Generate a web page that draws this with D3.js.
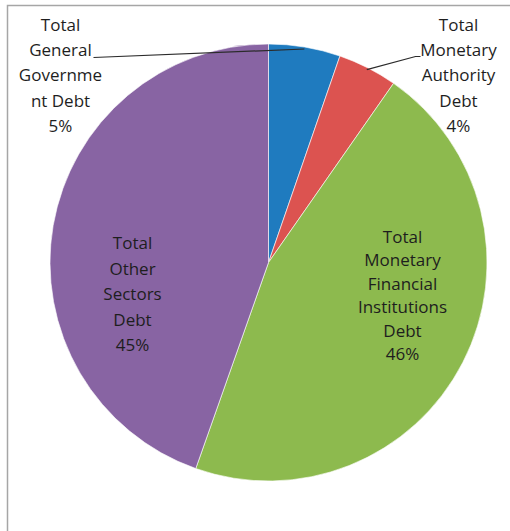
<!DOCTYPE html>
<html>
<head>
<meta charset="utf-8">
<script src="https://cdn.jsdelivr.net/npm/d3@7"></script>
<style>
  html, body { margin: 0; padding: 0; background: #fff; }
  svg { display: block; }
  .label { font-family: "Open Sans", sans-serif; font-size: 17px; fill: #1e1e1e; }
</style>
</head>
<body>
<div id="chart"></div>
<script>
// slices, clockwise from 12 o'clock
var categories = ['Total General Government Debt', 'Total Monetary Authority Debt',
  'Total Monetary Financial Institutions Debt', 'Total Other Sectors Debt'];
var values = [5.3, 4.4, 45.7, 44.6];
var colors = ['#1f7bbf', '#dc5350', '#8dba4e', '#8864a3'];
var labelLines = [
  ['Total', 'General', 'Governme', 'nt Debt'],
  ['Total', 'Monetary', 'Authority', 'Debt'],
  ['Total', 'Monetary', 'Financial', 'Institutions', 'Debt'],
  ['Total', 'Other', 'Sectors', 'Debt']
];

// label layout (relative to pie centre), leader end points for outside labels
var labelLayout = [
  { x: -208, y: -187, lineH: 25.3, leader: [-175, -205] },
  { x: 190, y: -187, lineH: 25.3, leader: [147, -206] },
  { x: 134, y: 33, lineH: 23.5 },
  { x: -136, y: 32, lineH: 25.5 }
];

var width = 510, height = 531;
var cx = 268.5, cy = 262.5, radius = 218.5;

var svg = d3.select('#chart').append('svg')
  .attr('width', width)
  .attr('height', height);

// chart area frame (only top and left edges visible in the crop)
svg.append('path')
  .attr('d', 'M7.5,' + height + 'V5.5H' + width)
  .attr('fill', 'none')
  .attr('stroke', '#a6a6a6')
  .attr('stroke-width', 1.5);

var g = svg.append('g').attr('transform', 'translate(' + cx + ',' + cy + ')');

var data = categories.map(function(c, i) { return { name: c, value: values[i] }; });
var total = d3.sum(values);

var pie = d3.pie().sort(null).value(function(d) { return d.value; });
var arc = d3.arc().innerRadius(0).outerRadius(radius);
var edgeArc = d3.arc().innerRadius(radius - 2).outerRadius(radius - 2);

var arcs = pie(data);

g.selectAll('path.slice').data(arcs).enter().append('path')
  .attr('class', 'slice')
  .attr('d', arc)
  .attr('fill', function(d, i) { return colors[i]; })
  .attr('stroke', '#fff')
  .attr('stroke-width', 0.6);

// leader lines for the two small slices
arcs.forEach(function(d, i) {
  var lay = labelLayout[i];
  if (!lay.leader) return;
  var p0 = edgeArc.centroid(d);
  var p1 = lay.leader;
  var pts = [p0, p1];
  if (i === 1) pts.push([p1[0] + 5, p1[1]]);
  g.append('path')
    .attr('d', d3.line()(pts))
    .attr('fill', 'none')
    .attr('stroke', '#2b2b2b')
    .attr('stroke-width', 1.2);
});

var fmt = function(v) { return Math.round(v / total * 100) + '%'; };

arcs.forEach(function(d, i) {
  var lay = labelLayout[i];
  var lines = labelLines[i].concat([fmt(d.data.value)]);
  var n = lines.length;
  var text = g.append('text')
    .attr('class', 'label')
    .attr('text-anchor', 'middle');
  lines.forEach(function(line, j) {
    text.append('tspan')
      .attr('x', lay.x)
      .attr('y', lay.y + (j - (n - 1) / 2) * lay.lineH)
      .attr('dy', '0.35em')
      .text(line);
  });
});
</script>
</body>
</html>
